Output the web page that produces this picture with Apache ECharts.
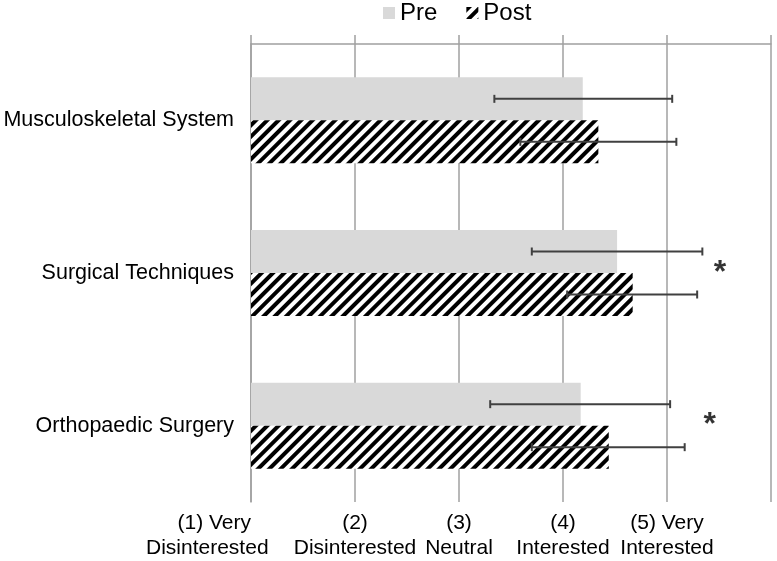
<!DOCTYPE html>
<html>
<head>
<meta charset="utf-8">
<script src="https://cdn.jsdelivr.net/npm/echarts@6/dist/echarts.min.js"></script>
<style>
html, body { margin: 0; background: #fff; }
#main { width: 777px; height: 561px; }
</style>
</head>
<body>
<div id="main"></div>
<script>
var categories = ['Musculoskeletal System', 'Surgical Techniques', 'Orthopaedic Surgery'];
var tickLabels = ['(1) Very\nDisinterested', '(2)\nDisinterested', '(3)\nNeutral', '(4)\nInterested', '(5) Very\nInterested'];

var preMean = [4.19, 4.52, 4.17];
var preLow = [3.34, 3.70, 3.30];
var preHigh = [5.05, 5.34, 5.03];

var postMean = [4.34, 4.67, 4.44];
var postLow = [3.59, 4.04, 3.70];
var postHigh = [5.09, 5.29, 5.17];

// significance markers (category index, x position)
var sigCats = [1, 2];
var sigX = [5.51, 5.41];

var FONT = '"Liberation Sans", Arial, sans-serif';
var GRID_COLOR = '#a0a0a0';
var BAR_W = 43;

var myChart = echarts.init(document.getElementById('main'));

function errorBars(low, high, offset) {
    return {
        type: 'custom',
        xAxisIndex: 0,
        z: 10,
        data: categories.map(function (c, i) { return [i, low[i], high[i]]; }),
        encode: { x: [1, 2], y: 0 },
        renderItem: function (params, api) {
            var cat = api.value(0);
            var a = api.coord([api.value(1), cat]);
            var b = api.coord([api.value(2), cat]);
            var y = a[1] + offset;
            var h = 4;
            var st = { stroke: '#404040', lineWidth: 2 };
            return {
                type: 'group',
                children: [
                    { type: 'line', shape: { x1: a[0], y1: y, x2: b[0], y2: y }, style: st },
                    { type: 'line', shape: { x1: a[0], y1: y - h, x2: a[0], y2: y + h }, style: st },
                    { type: 'line', shape: { x1: b[0], y1: y - h, x2: b[0], y2: y + h }, style: st }
                ]
            };
        }
    };
}

var option = {
    animation: false,
    textStyle: { fontFamily: FONT },
    legend: {
        data: ['Pre', 'Post'],
        icon: 'rect',
        left: 383,
        top: 1,
        padding: 0,
        itemWidth: 12,
        itemHeight: 12,
        itemGap: 29,
        textStyle: { fontSize: 24, color: '#000', fontFamily: FONT }
    },
    grid: { left: 251, right: 6, top: 44, bottom: 54, containLabel: false },
    xAxis: [{
        type: 'value',
        min: 1, max: 6, interval: 1,
        position: 'bottom',
        axisLine: { show: false },
        axisTick: { show: false },
        splitLine: { lineStyle: { color: GRID_COLOR, width: 1.5 } },
        axisLabel: {
            show: true,
            showMinLabel: true,
            alignMinLabel: 'right',
            color: '#000',
            fontSize: 21,
            lineHeight: 25,
            margin: 9,
            fontFamily: FONT,
            formatter: function (v) {
                var t = tickLabels[Math.round(v) - 1];
                if (!t) return '';
                if (Math.round(v) === 1) {
                    var parts = t.split('\n');
                    return '{a|' + parts[0] + '}\n{b|' + parts[1] + '}';
                }
                return t;
            },
            rich: {
                a: { width: 105, align: 'right', fontSize: 21, lineHeight: 25, color: '#000', fontFamily: FONT },
                b: { width: 105, align: 'left', fontSize: 21, lineHeight: 25, color: '#000', fontFamily: FONT }
            }
        }
    }, {
        type: 'value',
        min: 1, max: 6, interval: 1,
        position: 'top',
        axisLine: { show: true, lineStyle: { color: GRID_COLOR, width: 1.5 } },
        axisTick: { show: true, length: 9, lineStyle: { color: GRID_COLOR, width: 1.5 } },
        axisLabel: { show: false },
        splitLine: { show: false }
    }],
    yAxis: {
        type: 'category',
        data: categories,
        inverse: true,
        axisLine: { lineStyle: { color: GRID_COLOR, width: 1.5 } },
        axisTick: { length: 5, lineStyle: { color: GRID_COLOR, width: 1.5 } },
        axisLabel: { color: '#000', fontSize: 21.5, margin: 17, padding: [12, 0, 0, 0], fontFamily: FONT }
    },
    series: [{
        name: 'Pre',
        type: 'bar',
        xAxisIndex: 0,
        barWidth: BAR_W,
        barGap: '0%',
        itemStyle: { color: '#d9d9d9' },
        data: preMean
    }, {
        name: 'Post',
        type: 'bar',
        xAxisIndex: 0,
        barWidth: BAR_W,
        barGap: '0%',
        itemStyle: {
            color: '#ffffff',
            decal: {
                symbol: 'rect',
                symbolSize: 1,
                color: '#000000',
                dashArrayX: [1, 0],
                dashArrayY: [3.2, 3.2],
                rotation: -Math.PI / 4
            }
        },
        data: postMean
    },
    errorBars(preLow, preHigh, -BAR_W / 2),
    errorBars(postLow, postHigh, BAR_W / 2),
    {
        type: 'scatter',
        xAxisIndex: 0,
        symbolSize: 0,
        z: 11,
        data: sigCats.map(function (c, i) { return [sigX[i], c]; }),
        label: {
            show: true,
            position: 'inside',
            formatter: '*',
            fontSize: 32,
            fontWeight: 'bold',
            color: '#000',
            fontFamily: FONT
        }
    }]
};

myChart.setOption(option);
</script>
</body>
</html>
